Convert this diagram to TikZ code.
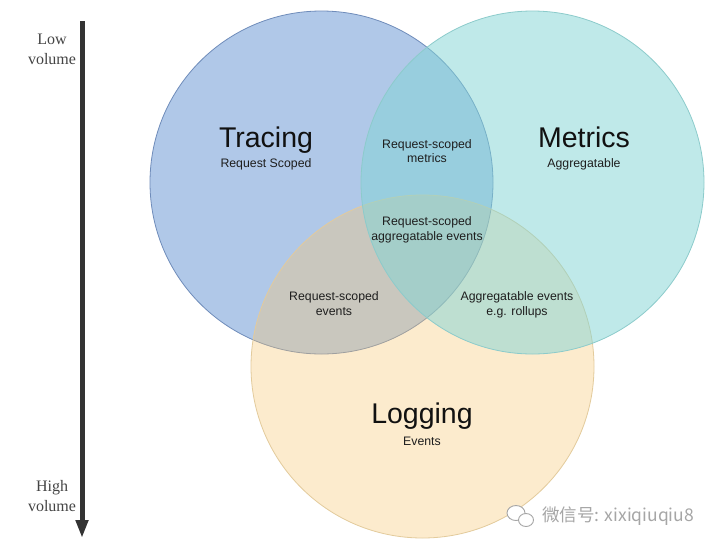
\documentclass[tikz,border=0pt]{standalone}
\usepackage{fontspec}
\setmainfont{Liberation Sans}
\newfontfamily\volfont{Liberation Serif}
\newfontfamily\cjkfont{Noto Sans CJK SC}
\usetikzlibrary{arrows.meta}
\definecolor{tracefill}{HTML}{B0C8E8}
\definecolor{traceline}{HTML}{6F8CBA}
\definecolor{logfill}{HTML}{F9C670}
\definecolor{logline}{HTML}{E3CB9C}
\definecolor{metfill}{HTML}{81D5D5}
\definecolor{metline}{HTML}{8CCBCB}
\definecolor{titlecol}{HTML}{111111}
\definecolor{subcol}{HTML}{1E1E1E}
\definecolor{arrowcol}{HTML}{333333}
\definecolor{volcol}{HTML}{444444}
\definecolor{wmcol}{HTML}{A6A6A6}
\begin{document}
\begin{tikzpicture}[x=1pt,y=-1pt,
  venn/.style={circle, minimum size=343pt, inner sep=0pt, line width=0.8pt},
  title/.style={font=\fontsize{28.5}{30}\selectfont, text=titlecol, inner sep=0pt, anchor=base},
  sub/.style={font=\fontsize{12.3}{14.5}\selectfont, text=subcol, inner sep=0pt, align=center, anchor=base},
  vol/.style={font=\volfont\fontsize{16}{20}\selectfont, text=volcol, inner sep=0pt, anchor=base},
  wm/.style={font=\cjkfont\fontsize{17.5}{19}\selectfont, text=wmcol, inner sep=0pt, anchor=west}
]
\useasboundingbox (0,0) rectangle (720,550);
\fill[white] (0,0) rectangle (720,550);

% circles
\node[venn, fill=tracefill, draw=traceline] (tracing) at (321.5,182.5) {};
\node[venn, fill=logfill, fill opacity=0.35, draw=logline] (logging) at (422.5,366.5) {};
\node[venn, fill=metfill, fill opacity=0.5, draw=metline] (metrics) at (532.5,182.5) {};

% titles
\node[title] (tt) at (266,147) {Tracing};
\node[sub] (ts) at (266,167.5) {Request Scoped};
\node[title] (mt) at (584,147) {Metrics};
\node[sub] (ms) at (584,167.5) {Aggregatable};
\node[title] (lt) at (422,423.5) {Logging};
\node[sub] (ls) at (422,445) {Events};

% overlaps (base anchor = baseline of last line)
\node[sub] (tm) at (427,162.5) {Request-scoped\\metrics};
\node[sub] (tml) at (427,240) {Request-scoped\\aggregatable events};
\node[sub] (tl) at (334,315) {Request-scoped\\events};
\node[sub] (ml) at (517,315) {Aggregatable events\\e.g. rollups};

% volume arrow
\coordinate (atop) at (82,21);
\coordinate (abot) at (82,538);
\draw[line width=5pt, arrowcol, -{Triangle[width=12pt,length=18pt]}] (atop) -- (abot);
\node[vol] (low1) at (52,44) {Low};
\node[vol] (low2) at (52,64) {volume};
\node[vol] (high1) at (52,491) {High};
\node[vol] (high2) at (52,511) {volume};

% watermark
\draw[wmcol, line width=0.9pt, fill=white] (516,513) ellipse (9pt and 7.5pt);
\draw[wmcol, line width=0.9pt, fill=white] (526,520) ellipse (7.5pt and 6.5pt);
\node[wm] (wmt) at (542,516) {微信号: xixiqiuqiu8};
\end{tikzpicture}
\end{document}
